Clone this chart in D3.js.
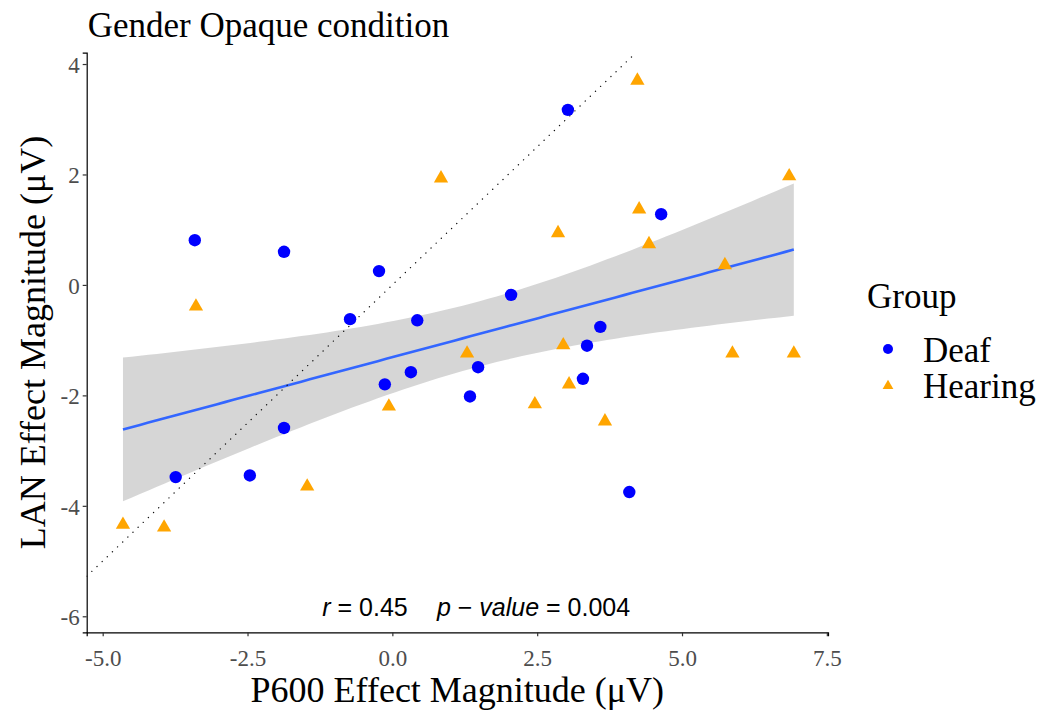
<!DOCTYPE html>
<html>
<head>
<meta charset="utf-8">
<script src="https://cdn.jsdelivr.net/npm/d3@7"></script>
<style>
  html, body { margin: 0; padding: 0; background: #fff; }
  svg { display: block; }
</style>
</head>
<body>
<svg id="chart" width="1042" height="710"></svg>
<script>
// P600 (x) vs LAN (y) effect magnitudes, per participant
const deafX = [-3.41, -1.87, 3.03, -0.23, 4.64, -0.73, 0.43, 2.05, 0.32, -0.13,
               1.48, 1.34, 3.59, 3.36, 3.29, 4.09, -1.87, -3.74, -2.46];
const deafY = [0.81, 0.60, 3.17, 0.25, 1.28, -0.62, -0.64, -0.18, -1.58, -1.80,
               -1.49, -2.02, -0.76, -1.10, -1.70, -3.75, -2.59, -3.48, -3.45];
const hearingX = [4.23, 0.84, 6.85, 2.86, 4.26, 4.43, 5.74, -3.39, 1.29, 2.95,
                  5.87, 6.93, 3.05, 2.46, -0.06, 3.67, -1.47, -4.65, -3.94];
const hearingY = [3.70, 1.93, 1.97, 0.94, 1.37, 0.74, 0.36, -0.39, -1.24, -1.09,
                  -1.24, -1.24, -1.80, -2.16, -2.20, -2.47, -3.65, -4.34, -4.39];

const groups = ["Deaf", "Hearing"];
const groupColors = ["#0000FF", "#FFA500"];

const xTicks = [-5, -2.5, 0, 2.5, 5, 7.5];
const xTickLabels = ["-5.0", "-2.5", "0.0", "2.5", "5.0", "7.5"];
const yTicks = [-6, -4, -2, 0, 2, 4];
const yTickLabels = ["-6", "-4", "-2", "0", "2", "4"];

const xDomain = [-5.276, 7.52];
const yDomain = [-6.29, 4.205];

const titleText = "Gender Opaque condition";
const xTitle = "P600 Effect Magnitude (\u03BCV)";
const yTitle = "LAN Effect Magnitude (\u03BCV)";
const legendTitle = "Group";
const rValue = "0.45";
const pValue = "0.004";

// ---- layout ----
const panel = { left: 86.7, right: 828, top: 52.7, bottom: 632.3 };
const serif = "'Liberation Serif', 'Times New Roman', serif";
const sans = "'Liberation Sans', Arial, sans-serif";

const svg = d3.select("#chart");
const x = d3.scaleLinear().domain(xDomain).range([panel.left, panel.right]);
const y = d3.scaleLinear().domain(yDomain).range([panel.bottom, panel.top]);

svg.append("defs").append("clipPath").attr("id", "panel-clip")
  .append("rect")
  .attr("x", panel.left).attr("y", panel.top)
  .attr("width", panel.right - panel.left)
  .attr("height", panel.bottom - panel.top);

// ---- linear fit with 95% confidence band over all participants ----
const allX = deafX.concat(hearingX);
const allY = deafY.concat(hearingY);
const n = allX.length;
const mx = d3.mean(allX), my = d3.mean(allY);
let sxx = 0, sxy = 0;
for (let i = 0; i < n; i++) {
  sxx += (allX[i] - mx) ** 2;
  sxy += (allX[i] - mx) * (allY[i] - my);
}
const slope = sxy / sxx;
const intercept = my - slope * mx;
let sse = 0;
for (let i = 0; i < n; i++) sse += (allY[i] - (intercept + slope * allX[i])) ** 2;
const sigma = Math.sqrt(sse / (n - 2));
const tCrit = 2.028; // t(0.975, df = 36)
const [xmin, xmax] = d3.extent(allX);
const fit = d3.range(80).map(i => {
  const xv = xmin + (xmax - xmin) * i / 79;
  const yv = intercept + slope * xv;
  const se = sigma * Math.sqrt(1 / n + (xv - mx) ** 2 / sxx);
  return { x: xv, y: yv, lo: yv - tCrit * se, hi: yv + tCrit * se };
});

const plot = svg.append("g").attr("clip-path", "url(#panel-clip)");

plot.append("path")
  .datum(fit)
  .attr("fill", "#999999")
  .attr("fill-opacity", 0.4)
  .attr("d", d3.area().x(d => x(d.x)).y0(d => y(d.lo)).y1(d => y(d.hi)));

plot.append("path")
  .datum(fit)
  .attr("fill", "none")
  .attr("stroke", "#3366FF")
  .attr("stroke-width", 2.6)
  .attr("d", d3.line().x(d => x(d.x)).y(d => y(d.y)));

// identity reference line y = x
const idLo = Math.max(xDomain[0], yDomain[0]);
const idHi = Math.min(xDomain[1], yDomain[1]);
plot.append("line")
  .attr("x1", x(idLo)).attr("y1", y(idLo))
  .attr("x2", x(idHi)).attr("y2", y(idHi))
  .attr("stroke", "#111")
  .attr("stroke-width", 1.3)
  .attr("stroke-linecap", "round")
  .attr("stroke-dasharray", "0.1,7");

// points
const pts = svg.append("g");
pts.selectAll("circle.deaf")
  .data(deafX.map((v, i) => [v, deafY[i]]))
  .join("circle")
  .attr("class", "deaf")
  .attr("cx", d => x(d[0])).attr("cy", d => y(d[1]))
  .attr("r", 6.2)
  .attr("fill", groupColors[0]);

const tri = d3.symbol().type(d3.symbolTriangle).size(88);
pts.selectAll("path.hearing")
  .data(hearingX.map((v, i) => [v, hearingY[i]]))
  .join("path")
  .attr("class", "hearing")
  .attr("transform", d => `translate(${x(d[0])},${y(d[1])})`)
  .attr("d", tri)
  .attr("fill", groupColors[1]);

// ---- axes ----
const xAxis = svg.append("g")
  .attr("transform", `translate(0,${panel.bottom})`)
  .call(d3.axisBottom(x).tickValues(xTicks).tickSizeOuter(0).tickSize(4)
    .tickFormat((d, i) => xTickLabels[i]));
const yAxis = svg.append("g")
  .attr("transform", `translate(${panel.left},0)`)
  .call(d3.axisLeft(y).tickValues(yTicks).tickSizeOuter(0).tickSize(4)
    .tickFormat((d, i) => yTickLabels[i]));

[xAxis, yAxis].forEach(a => {
  a.select(".domain").attr("stroke", "#000").attr("stroke-width", 1.2);
  a.selectAll(".tick line").attr("stroke", "#333333").attr("stroke-width", 1.2);
  a.selectAll(".tick text")
    .attr("fill", "#4D4D4D")
    .style("font-family", serif)
    .style("font-size", "23px");
});
xAxis.selectAll(".tick text").attr("y", 33.5).attr("dy", null);
yAxis.selectAll(".tick text").attr("x", -7).attr("dy", "0.36em");

// ---- titles ----
svg.append("text")
  .attr("x", panel.left + 1).attr("y", 37)
  .style("font-family", serif).style("font-size", "35px")
  .attr("fill", "#000")
  .text(titleText);

svg.append("text")
  .attr("x", (panel.left + panel.right) / 2).attr("y", 702)
  .attr("text-anchor", "middle")
  .style("font-family", serif).style("font-size", "36px")
  .text(xTitle);

svg.append("text")
  .attr("transform", `translate(45,${(panel.top + panel.bottom) / 2}) rotate(-90)`)
  .attr("text-anchor", "middle")
  .style("font-family", serif).style("font-size", "36px")
  .text(yTitle);

// ---- statistics annotation ----
const ann = svg.append("g").style("font-family", sans).style("font-size", "25px").attr("fill", "#000");
const rText = ann.append("text").attr("x", x(-1.21)).attr("y", y(-6));
rText.append("tspan").style("font-style", "italic").text("r");
rText.append("tspan").text(" = " + rValue);
const pText = ann.append("text").attr("x", x(0.77)).attr("y", y(-6));
pText.append("tspan").style("font-style", "italic").text("p");
pText.append("tspan").text(" \u2212 ");
pText.append("tspan").style("font-style", "italic").text("value");
pText.append("tspan").text(" = " + pValue);

// ---- legend ----
const legend = svg.append("g");
legend.append("text")
  .attr("x", 867).attr("y", 308)
  .style("font-family", serif).style("font-size", "35px")
  .text(legendTitle);
const keyY = [349, 385];
legend.append("circle").attr("cx", 888).attr("cy", keyY[0]).attr("r", 5).attr("fill", groupColors[0]);
legend.append("path")
  .attr("transform", `translate(888,${keyY[1] + 1})`)
  .attr("d", d3.symbol().type(d3.symbolTriangle).size(50))
  .attr("fill", groupColors[1]);
groups.forEach((g, i) => {
  legend.append("text")
    .attr("x", 923).attr("y", keyY[i] + 13)
    .style("font-family", serif).style("font-size", "35px")
    .text(g);
});
</script>
</body>
</html>
